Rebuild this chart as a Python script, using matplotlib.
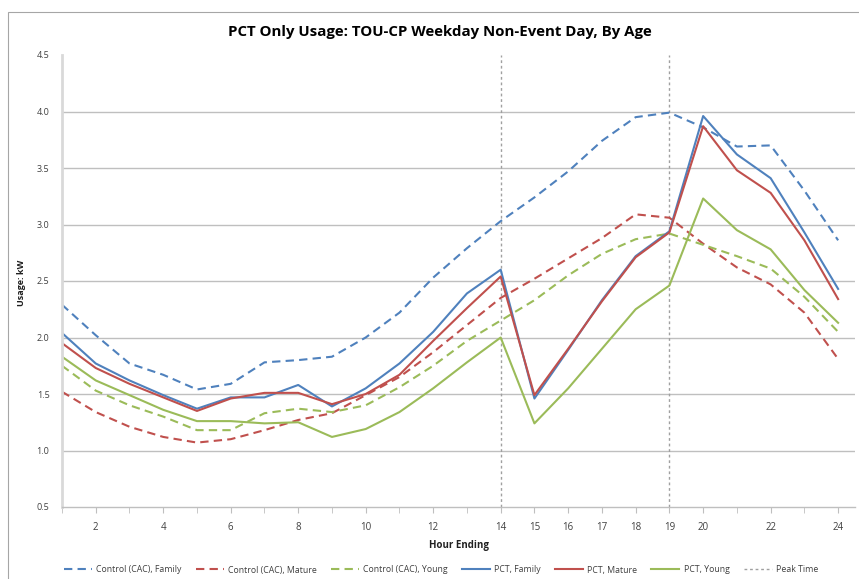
import matplotlib
matplotlib.use("Agg")
import matplotlib.pyplot as plt
from matplotlib.patches import Rectangle
import numpy as np

plt.rcParams['font.family'] = ['Open Sans', 'DejaVu Sans']

hours = list(range(1, 25))

ctrl_family = [2.29, 2.02, 1.77, 1.67, 1.54, 1.59, 1.78, 1.80, 1.83, 2.00, 2.22, 2.53,
               2.79, 3.03, 3.24, 3.47, 3.74, 3.95, 3.99, 3.86, 3.69, 3.70, 3.30, 2.86]
ctrl_mature = [1.52, 1.34, 1.21, 1.12, 1.07, 1.10, 1.18, 1.27, 1.33, 1.49, 1.65, 1.87,
               2.11, 2.35, 2.52, 2.70, 2.88, 3.09, 3.06, 2.83, 2.62, 2.47, 2.22, 1.81]
ctrl_young = [1.75, 1.53, 1.40, 1.30, 1.18, 1.18, 1.33, 1.37, 1.34, 1.40, 1.56, 1.75,
              1.97, 2.15, 2.33, 2.55, 2.74, 2.87, 2.92, 2.82, 2.72, 2.61, 2.36, 2.05]
pct_family = [2.04, 1.77, 1.62, 1.49, 1.37, 1.47, 1.47, 1.58, 1.39, 1.55, 1.77, 2.05,
              2.39, 2.60, 1.46, 1.89, 2.33, 2.72, 2.94, 3.96, 3.62, 3.41, 2.93, 2.43]
pct_mature = [1.95, 1.73, 1.59, 1.47, 1.35, 1.46, 1.51, 1.51, 1.41, 1.50, 1.67, 1.97,
              2.26, 2.54, 1.49, 1.90, 2.32, 2.71, 2.93, 3.87, 3.48, 3.28, 2.86, 2.34]
pct_young = [1.83, 1.62, 1.49, 1.36, 1.26, 1.26, 1.24, 1.25, 1.12, 1.19, 1.34, 1.55,
             1.78, 2.00, 1.24, 1.55, 1.90, 2.25, 2.46, 3.23, 2.95, 2.78, 2.42, 2.13]

peak_hours = [14, 19]
tick_labels = [2, 4, 6, 8, 10, 12, 14, 15, 16, 17, 18, 19, 20, 22, 24]

blue = '#4F81BD'
red = '#C0504D'
green = '#9BBB59'
grid_c = '#BFBFBF'
text_c = '#404040'

fig = plt.figure(figsize=(8.59, 5.79), dpi=100)
fig.patches.append(Rectangle((8 / 859, -0.1), 1.2, 1 - 12 / 579 + 0.1, transform=fig.transFigure,
                             fill=False, edgecolor='#A6A6A6', linewidth=0.8))
ax = fig.add_axes([62 / 859, 1 - 507 / 579, (855 - 62) / 859, (507 - 55) / 579])

for yv in [1.0, 1.5, 2.0, 2.5, 3.0, 3.5, 4.0]:
    ax.axhline(yv, color=grid_c, linewidth=1.0, zorder=0)

dash = (0, (4, 2.5))
ax.plot(hours, ctrl_family, color=blue, lw=1.5, ls=dash, label='Control (CAC), Family')
ax.plot(hours, ctrl_mature, color=red, lw=1.5, ls=dash, label='Control (CAC), Mature')
ax.plot(hours, ctrl_young, color=green, lw=1.5, ls=dash, label='Control (CAC), Young')
ax.plot(hours, pct_family, color=blue, lw=1.5, label='PCT, Family')
ax.plot(hours, pct_mature, color=red, lw=1.5, label='PCT, Mature')
ax.plot(hours, pct_young, color=green, lw=1.5, label='PCT, Young')
for i, h in enumerate(peak_hours):
    ax.axvline(h, color='#A0A0A0', lw=1.0, ls=(0, (2, 2)),
               label='Peak Time' if i == 0 else None, zorder=1)

ax.set_xlim(1, 24.5)
ax.set_ylim(0.5, 4.5)
ax.set_xticks(hours, minor=True)
ax.set_xticks(tick_labels)
ax.set_xticklabels([str(t) for t in tick_labels])
ax.set_yticks(np.arange(0.5, 4.51, 0.5))
ax.set_yticklabels(['%.1f' % v for v in np.arange(0.5, 4.51, 0.5)])

for s in ['top', 'right']:
    ax.spines[s].set_visible(False)
ax.spines['left'].set_color('#D9D9D9')
ax.spines['left'].set_linewidth(2)
ax.spines['bottom'].set_color(grid_c)
ax.spines['bottom'].set_linewidth(1.0)
ax.tick_params(axis='x', which='both', length=4, color=grid_c, labelsize=7,
               labelcolor=text_c, pad=7)
ax.tick_params(axis='y', length=0, labelsize=6.5, labelcolor=text_c, pad=9)

ax.set_xlabel('Hour Ending', fontsize=7, fontweight='bold', color='#202020', labelpad=5)
fig.text(22 / 859, 1 - 283 / 579, 'Usage: kW', rotation=90, fontsize=6.5, fontweight='bold',
         color='#202020', ha='center', va='center')
fig.text(440 / 859, 1 - 32 / 579, 'PCT Only Usage: TOU-CP Weekday Non-Event Day, By Age',
         fontsize=10.8, fontweight='bold', color='#000000', ha='center', va='center')

fig.legend(loc='center', bbox_to_anchor=(441 / 859, 1 - 570 / 579), ncol=7, frameon=False,
           fontsize=6.3, handlelength=3.2, columnspacing=1.6, handletextpad=0.5,
           labelcolor=text_c)

fig.savefig('out.png', dpi=100)
